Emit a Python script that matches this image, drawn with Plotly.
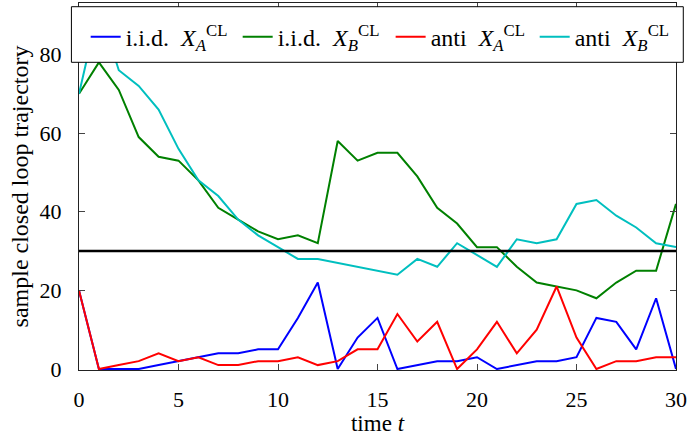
import plotly.graph_objects as go

# time steps and closed-loop trajectories
t = list(range(31))
iid_a = [20, 0, 0, 0, 1, 2, 3, 4, 4, 5, 5, 13, 22, 0, 8, 13, 0, 1, 2, 2, 3, 0, 1, 2, 2, 3, 13, 12, 5, 18, 0]
iid_b = [70, 78, 71, 59, 54, 53, 48, 41, 38, 35, 33, 34, 32, 58, 53, 55, 55, 49, 41, 37, 31, 31, 26, 22, 21, 20, 18, 22, 25, 25, 42]
anti_a = [20, 0, 1, 2, 4, 2, 3, 1, 1, 2, 2, 3, 1, 2, 5, 5, 14, 7, 12, 0, 5, 12, 4, 10, 21, 8, 0, 2, 2, 3, 3]
anti_b = [70, 92, 76, 72, 66, 56, 48, 44, 38, 34, 31, 28, 28, 27, 26, 25, 24, 28, 26, 32, 29, 26, 33, 32, 33, 42, 43, 39, 36, 32, 31]
threshold = 30

series_names = [
    "i.i.d.&nbsp;&nbsp;<i>X</i><sub><i>A</i></sub><sup>CL</sup>",
    "i.i.d.&nbsp;&nbsp;<i>X</i><sub><i>B</i></sub><sup>CL</sup>",
    "anti&nbsp;&nbsp;<i>X</i><sub><i>A</i></sub><sup>CL</sup>",
    "anti&nbsp;&nbsp;<i>X</i><sub><i>B</i></sub><sup>CL</sup>",
]
series_colors = ["#0000ff", "#008000", "#ff0000", "#00bfbf"]
legend_ids = ["legend", "legend2", "legend3", "legend4"]
legend_x = [0.0112, 0.2658, 0.522, 0.7633]

FONT = "Liberation Serif, Times New Roman, serif"

fig = go.Figure()
for name, ys, col, lg in zip(series_names, [iid_a, iid_b, anti_a, anti_b], series_colors, legend_ids):
    fig.add_trace(go.Scatter(x=t, y=ys, mode="lines", name=name, legend=lg,
                             line=dict(color=col, width=2)))

# constant reference level
fig.add_trace(go.Scatter(x=[t[0], t[-1]], y=[threshold, threshold], mode="lines",
                         line=dict(color="black", width=2.5), showlegend=False))

# legend frame
fig.add_shape(type="rect", xref="paper", yref="paper",
              x0=-0.0127, x1=1.0122, y0=0.8384, y1=0.9899,
              line=dict(color="black", width=1), fillcolor="white", layer="above")

axis_common = dict(showline=True, linecolor="#222", linewidth=1, mirror="ticks",
                   ticks="inside", ticklen=6, tickcolor="#444", showgrid=False,
                   zeroline=False, ticklabeloverflow="allow",
                   tickfont=dict(family=FONT, size=22, color="black"))

legend_style = dict(orientation="h", y=0.907, xanchor="left", yanchor="middle",
                    bgcolor="rgba(0,0,0,0)", borderwidth=0, itemwidth=30,
                    font=dict(family=FONT, size=24))

fig.update_layout(
    width=687, height=436,
    margin=dict(l=79, r=11, t=3, b=66, autoexpand=False),
    plot_bgcolor="white", paper_bgcolor="white",
    font=dict(family=FONT, size=23, color="black"),
    xaxis=dict(range=[0, 30], tickvals=[0, 5, 10, 15, 20, 25, 30],
               ticklabelstandoff=10,
               title=dict(text="time <i>t</i>", standoff=1,
                          font=dict(family=FONT, size=23)),
               **axis_common),
    yaxis=dict(range=[-0.25, 93.1], tickvals=[0, 20, 40, 60, 80],
               ticklabelstandoff=12,
               title=dict(text="sample closed loop trajectory", standoff=4,
                          font=dict(family=FONT, size=24)),
               **axis_common),
)
for lg, lx in zip(legend_ids, legend_x):
    fig.update_layout({lg: dict(x=lx, **legend_style)})

fig.write_html("out.html")
